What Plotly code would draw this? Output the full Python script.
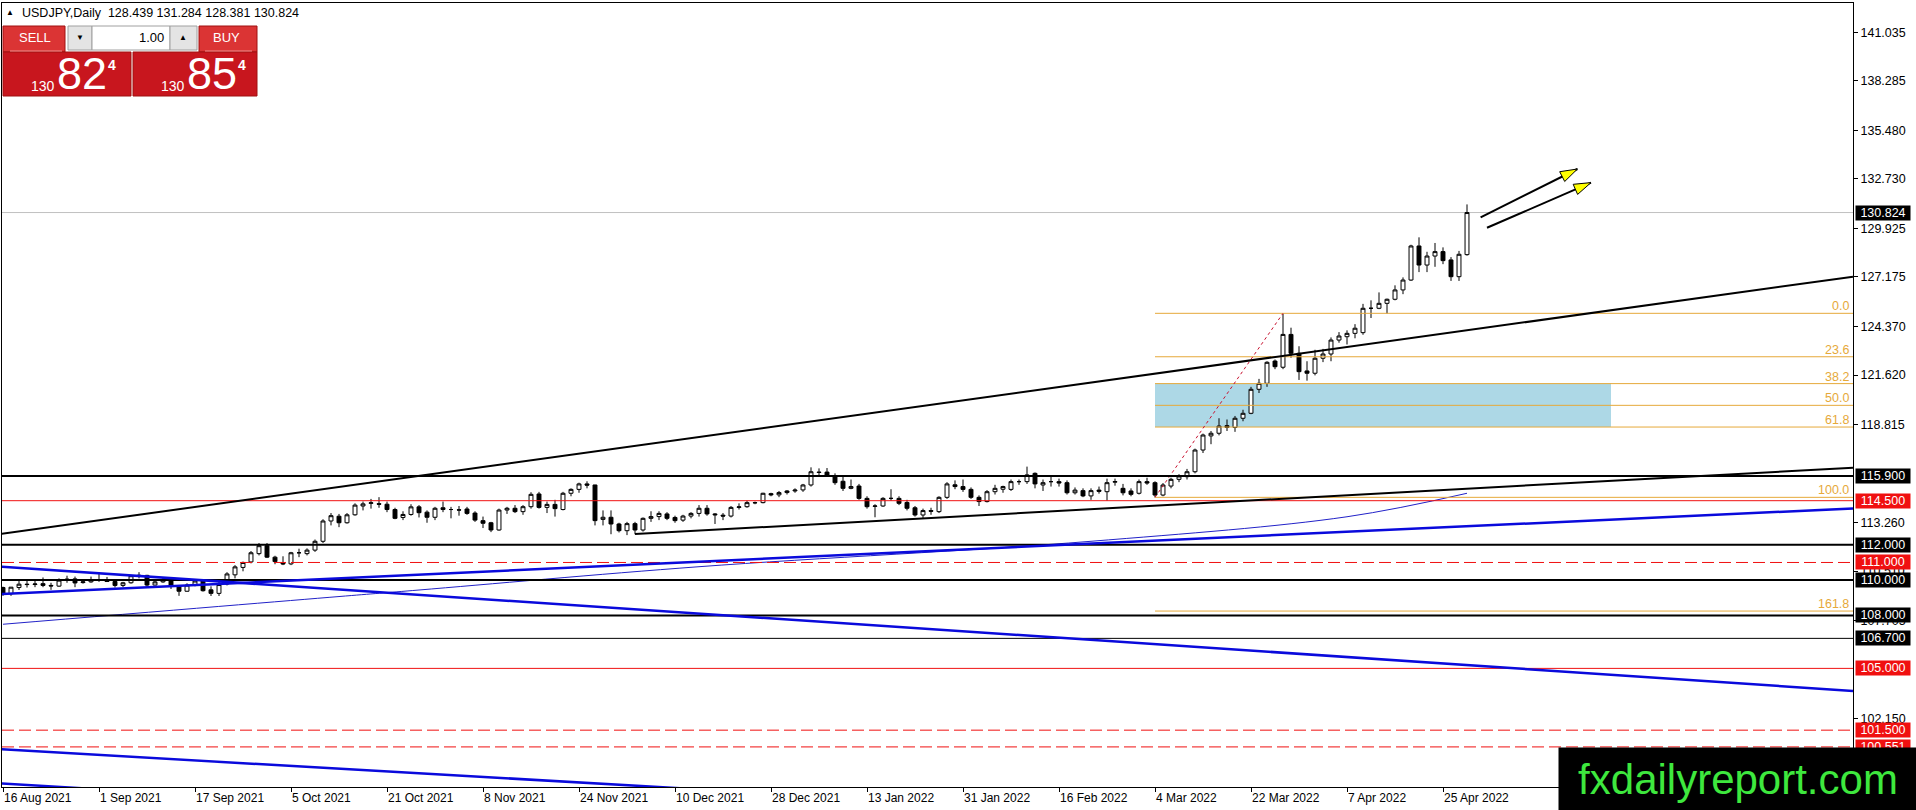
import math
import pandas as pd
import plotly.graph_objects as go

# ---- data (USDJPY daily) ----
bar_dates = pd.bdate_range("2021-08-16", "2022-04-28")  # one bar per weekday

opens = [
    109.58, 109.23, 109.58, 109.77, 109.75, 109.80, 109.70, 109.66, 110.00, 110.07,
    109.86, 109.90, 110.02, 110.01, 109.92, 109.70, 109.85, 110.25, 110.27, 109.72,
    109.90, 110.02, 109.68, 109.37, 109.72, 109.95, 109.45, 109.25, 109.78, 110.30,
    110.72, 111.03, 111.50, 111.95, 111.30, 110.98, 110.92, 111.55, 111.50, 111.70,
    112.20, 113.35, 113.62, 113.25, 113.70, 114.20, 114.35, 114.33, 114.30, 114.00,
    113.55, 113.72, 114.15, 113.85, 113.56, 114.10, 114.00, 113.98, 114.03, 113.80,
    113.37, 113.25, 112.84, 113.97, 114.07, 113.88, 114.16, 114.88, 114.12, 114.29,
    114.00, 114.92, 115.14, 115.45, 115.39, 113.44, 113.56, 113.18, 112.80, 113.20,
    112.84, 113.50, 113.60, 113.75, 113.55, 113.40, 113.63, 113.78, 114.07, 113.75,
    113.68, 113.63, 114.12, 114.16, 114.39, 114.39, 114.90, 114.83, 114.96, 115.05,
    115.11, 115.39, 116.12, 116.12, 115.90, 115.60, 115.20, 115.33, 114.63, 114.18,
    114.20, 114.63, 114.63, 114.40, 114.10, 113.69, 113.94, 113.88, 114.69, 115.40,
    115.30, 115.14, 114.69, 114.45, 115.01, 115.15, 115.14, 115.58, 115.58, 116.05,
    115.39, 115.58, 115.58, 115.52, 114.95, 115.07, 114.77, 115.10, 115.01, 115.55,
    115.20, 115.05, 114.92, 115.58, 115.52, 114.82, 115.33, 115.71, 115.86, 116.14,
    117.37, 118.17, 118.32, 118.75, 118.65, 119.17, 119.45, 120.81, 121.15, 122.41,
    122.06, 123.92, 122.85, 121.85, 121.72, 122.57, 122.81, 123.60, 123.79, 123.98,
    124.02, 125.40, 125.40, 125.68, 125.91, 126.44, 127.00, 128.93, 127.85, 128.36,
    128.61, 128.14, 127.19, 128.439,
]
highs = [
    109.63, 109.61, 110.02, 110.05, 109.97, 110.15, 109.85, 110.10, 110.25, 110.20,
    110.05, 110.20, 110.42, 110.18, 110.05, 109.90, 110.30, 110.45, 110.30, 110.05,
    110.15, 110.15, 109.72, 109.82, 110.05, 110.00, 109.65, 109.90, 110.45, 110.85,
    111.05, 111.65, 112.10, 112.10, 111.38, 111.35, 111.60, 111.78, 111.80, 112.30,
    113.45, 113.80, 113.75, 113.80, 114.35, 114.45, 114.60, 114.70, 114.45, 114.10,
    113.90, 114.30, 114.25, 113.95, 114.15, 114.45, 114.15, 114.20, 114.15, 113.90,
    113.60, 113.30, 114.05, 114.15, 114.25, 114.25, 114.98, 115.00, 114.45, 114.55,
    115.00, 115.20, 115.52, 115.60, 115.40, 113.95, 113.95, 113.25, 113.30, 113.30,
    113.55, 113.90, 113.90, 113.85, 113.65, 113.70, 113.85, 114.25, 114.25, 113.80,
    113.80, 114.20, 114.35, 114.50, 114.45, 114.95, 114.95, 115.05, 115.10, 115.20,
    115.45, 116.39, 116.33, 116.35, 116.05, 115.85, 115.70, 115.45, 114.75, 114.30,
    114.70, 115.15, 114.75, 114.55, 114.20, 114.05, 114.10, 114.75, 115.55, 115.65,
    115.70, 115.25, 114.80, 115.10, 115.40, 115.35, 115.70, 115.70, 116.43, 116.10,
    115.70, 115.90, 115.75, 115.65, 115.25, 115.20, 115.20, 115.30, 115.75, 115.75,
    115.45, 115.20, 115.70, 115.80, 115.60, 115.50, 115.80, 116.00, 116.30, 117.45,
    118.30, 118.45, 119.17, 119.10, 119.30, 119.65, 120.95, 121.40, 122.40, 122.50,
    125.08, 124.30, 123.25, 122.40, 123.05, 123.10, 123.75, 124.05, 124.15, 124.50,
    125.65, 125.85, 126.30, 125.95, 126.70, 127.15, 129.00, 129.42, 128.60, 129.10,
    128.85, 128.30, 128.65, 131.284,
]
lows = [
    109.11, 109.11, 109.44, 109.58, 109.60, 109.60, 109.45, 109.62, 109.85, 109.60,
    109.80, 109.85, 109.90, 109.90, 109.58, 109.60, 109.80, 110.10, 109.60, 109.70,
    109.85, 109.50, 109.11, 109.35, 109.65, 109.35, 109.10, 109.10, 109.70, 110.10,
    110.50, 110.95, 111.40, 111.25, 110.90, 110.85, 110.85, 111.30, 111.40, 111.60,
    112.10, 113.10, 113.00, 113.20, 113.65, 113.95, 114.05, 114.10, 113.85, 113.45,
    113.40, 113.65, 113.55, 113.25, 113.40, 113.85, 113.50, 113.65, 113.70, 113.30,
    112.95, 112.72, 112.80, 113.75, 113.80, 113.70, 114.05, 114.05, 113.80, 113.60,
    113.95, 114.75, 114.95, 115.20, 113.10, 113.10, 112.60, 112.70, 112.55, 112.60,
    112.75, 113.30, 113.40, 113.40, 113.25, 113.30, 113.50, 113.60, 113.65, 113.18,
    113.40, 113.55, 114.00, 114.10, 114.30, 114.35, 114.75, 114.70, 114.85, 114.95,
    115.00, 115.30, 115.95, 115.85, 115.40, 115.05, 115.15, 114.55, 114.05, 113.56,
    114.15, 114.50, 114.25, 113.95, 113.60, 113.48, 113.70, 113.80, 114.60, 115.15,
    115.00, 114.60, 114.20, 114.40, 114.85, 114.95, 115.05, 115.40, 115.45, 115.20,
    115.05, 115.30, 115.30, 114.85, 114.85, 114.70, 114.55, 114.90, 114.50, 115.35,
    114.80, 114.75, 114.85, 115.40, 114.69, 114.75, 115.20, 115.55, 115.70, 116.05,
    117.20, 117.70, 118.20, 118.45, 118.40, 119.00, 119.40, 120.60, 120.95, 121.95,
    121.95, 122.60, 121.34, 121.30, 121.60, 122.35, 122.40, 123.45, 123.35, 123.70,
    123.90, 124.85, 125.35, 125.10, 125.85, 126.20, 126.95, 127.45, 127.45, 127.75,
    127.90, 126.95, 126.95, 128.381,
]
closes = [
    109.25, 109.60, 109.77, 109.75, 109.78, 109.70, 109.67, 110.00, 110.05, 109.84,
    109.90, 110.02, 110.01, 109.92, 109.70, 109.85, 110.25, 110.27, 109.72, 109.90,
    110.02, 109.70, 109.37, 109.72, 109.95, 109.40, 109.25, 109.75, 110.35, 110.75,
    111.00, 111.55, 111.95, 111.30, 111.05, 110.92, 111.55, 111.55, 111.70, 112.20,
    113.35, 113.65, 113.25, 113.70, 114.25, 114.32, 114.38, 114.30, 114.00, 113.50,
    113.72, 114.15, 113.82, 113.56, 114.07, 114.00, 114.00, 113.97, 113.78, 113.40,
    113.22, 112.84, 113.97, 114.07, 113.88, 114.16, 114.86, 114.12, 114.29, 114.05,
    114.92, 115.14, 115.45, 115.38, 113.37, 113.56, 113.18, 112.80, 113.20, 112.84,
    113.50, 113.60, 113.78, 113.50, 113.37, 113.63, 113.78, 114.07, 113.75, 113.70,
    113.63, 114.12, 114.15, 114.39, 114.38, 114.92, 114.83, 114.96, 115.05, 115.10,
    115.39, 116.14, 116.10, 115.90, 115.52, 115.20, 115.30, 114.63, 114.16, 114.20,
    114.63, 114.63, 114.35, 114.07, 113.69, 113.94, 113.90, 114.69, 115.45, 115.30,
    115.14, 114.69, 114.45, 115.01, 115.20, 115.30, 115.58, 115.58, 115.96, 115.45,
    115.52, 115.58, 115.50, 114.95, 115.10, 114.77, 115.07, 115.03, 115.52, 115.58,
    114.95, 114.86, 115.58, 115.50, 114.82, 115.39, 115.71, 115.90, 116.14, 117.37,
    118.22, 118.32, 118.73, 118.65, 119.17, 119.45, 120.81, 121.15, 122.34, 122.09,
    123.92, 122.85, 121.81, 121.72, 122.57, 122.81, 123.60, 123.83, 123.98, 124.27,
    125.40, 125.40, 125.68, 125.91, 126.44, 127.00, 128.93, 127.85, 128.36, 128.61,
    128.10, 127.19, 128.46, 130.824,
]

tick_labels = ["16 Aug 2021", "1 Sep 2021", "17 Sep 2021", "5 Oct 2021", "21 Oct 2021",
               "8 Nov 2021", "24 Nov 2021", "10 Dec 2021", "28 Dec 2021", "13 Jan 2022",
               "31 Jan 2022", "16 Feb 2022", "4 Mar 2022", "22 Mar 2022", "7 Apr 2022",
               "25 Apr 2022"]
# price scale labels; the ones hidden completely behind level boxes are left out
price_ticks = [141.035, 138.285, 135.480, 132.730, 129.925, 127.175, 124.370, 121.620,
               118.815, 113.260, 110.510, 107.705, 102.150]

# horizontal support / resistance levels
level_prices = [115.900, 114.500, 112.000, 111.000, 110.000, 108.000, 106.700,
                105.000, 101.500, 100.551]
last_price = 130.824

# fibonacci retracement drawn from the 4 Mar low to the 28 Mar high
fib_low, fib_high = 114.69, 125.115
fib_ratios = [0.0, 23.6, 38.2, 50.0, 61.8, 100.0, 161.8]
fib_start_bar, fib_end_bar, zone_end_bar = 144, 160, 201

# thin moving average (read at a few bars)
ma_bars = [0, 42, 52, 87, 136, 168, 183]
ma_values = [107.50, 109.07, 109.44, 110.76, 112.20, 113.59, 114.92]

# drawn trend lines: (bar, price) -> (bar, price)
black_trends = [((-0.375, 112.61), (231.25, 127.19)),
                ((79, 112.61), (231.25, 116.37))]
blue_trends = [((-0.375, 110.76), (231.25, 103.72)),
               ((-0.375, 109.215), (231.25, 114.06)),
               ((-0.375, 100.42), (90, 98.07)),
               ((-0.375, 98.49), (12, 98.15))]
arrows = [((184.7, 130.55), (196.8, 133.29)),
          ((185.5, 129.96), (198.5, 132.52))]

# ---- layout constants ----
W, H = 1916, 810
PLOT_L, PLOT_R, PLOT_T, PLOT_B = 2, 1853, 3, 787
XMIN, XMAX = -0.125, 231.25
YMIN, YMAX = 98.28, 142.695
FONT = "Liberation Sans, Arial, sans-serif"
RED = "#F01010"
BLUE = "#0A0ADC"
FIB = "#E6A93A"


def pxx(px):
    return (px - PLOT_L) / (PLOT_R - PLOT_L)


def pxy(py):
    return (PLOT_B - py) / (PLOT_B - PLOT_T)


bars = list(range(len(bar_dates)))
date_pos = {d.strftime("%-d %b %Y"): i for i, d in enumerate(bar_dates)}
tick_bars = [date_pos[t] for t in tick_labels]

fig = go.Figure()

fig.add_trace(go.Scatter(
    x=ma_bars, y=ma_values, mode="lines",
    line=dict(color="#2222C8", width=1, shape="spline", smoothing=1),
    hoverinfo="skip", showlegend=False))

fig.add_trace(go.Candlestick(
    x=bars, open=opens, high=highs, low=lows, close=closes,
    increasing=dict(line=dict(color="black", width=1), fillcolor="white"),
    decreasing=dict(line=dict(color="black", width=1), fillcolor="black"),
    whiskerwidth=0, showlegend=False, hoverinfo="skip"))

shapes = []
annotations = []

# fibonacci zone (background)
fib_levels = [fib_high - r / 100 * (fib_high - fib_low) for r in fib_ratios]
shapes.append(dict(type="rect", xref="x", yref="y", x0=fib_start_bar, x1=zone_end_bar,
                   y0=fib_levels[2], y1=fib_levels[4], fillcolor="#ADD8E6",
                   line=dict(width=0), layer="below"))
for r, lv in zip(fib_ratios, fib_levels):
    shapes.append(dict(type="line", xref="x", yref="y", x0=fib_start_bar, x1=XMAX,
                       y0=lv, y1=lv, line=dict(color=FIB, width=1), layer="above"))
    annotations.append(dict(xref="paper", yref="y", x=1, y=lv, xanchor="right",
                            yanchor="bottom", xshift=-2, yshift=-2, showarrow=False,
                            text=f"{r:.1f}", font=dict(family=FONT, size=12.5, color=FIB)))
shapes.append(dict(type="line", xref="x", yref="y", x0=fib_start_bar, y0=fib_low,
                   x1=fib_end_bar, y1=fib_high,
                   line=dict(color="#C8102E", width=1, dash="3px,3px"), layer="above"))

# last price line
shapes.append(dict(type="line", xref="paper", yref="y", x0=0, x1=1, y0=last_price,
                   y1=last_price, line=dict(color="#C0C0C0", width=1), layer="below"))

# horizontal levels
level_styles = {"heavy": ("black", 2, "solid"), "thin": ("black", 1, "solid"),
                "red": (RED, 1, "solid"), "red_dash": (RED, 1, "12px,5px")}
level_kinds = ["heavy", "red", "heavy", "red_dash", "heavy", "heavy", "thin",
               "red", "red_dash", "red_dash"]
for lv, kind in zip(level_prices, level_kinds):
    color, width, dash = level_styles[kind]
    shapes.append(dict(type="line", xref="paper", yref="y", x0=0, x1=1, y0=lv, y1=lv,
                       line=dict(color=color, width=width, dash=dash), layer="above"))

# trend lines
for (x0, y0), (x1, y1) in black_trends:
    shapes.append(dict(type="line", xref="x", yref="y", x0=x0, y0=y0, x1=x1, y1=y1,
                       line=dict(color="black", width=2), layer="above"))
for (x0, y0), (x1, y1) in blue_trends:
    shapes.append(dict(type="line", xref="x", yref="y", x0=x0, y0=y0, x1=x1, y1=y1,
                       line=dict(color=BLUE, width=2.5), layer="above"))

# arrows: black shaft + yellow head
px_per_bar = (PLOT_R - PLOT_L) / (XMAX - XMIN)
px_per_yen = (PLOT_B - PLOT_T) / (YMAX - YMIN)
HEAD_LEN, HEAD_HALF = 17, 5.5
for (sx, sy), (tx, ty) in arrows:
    shapes.append(dict(type="line", xref="x", yref="y", x0=sx, y0=sy, x1=tx, y1=ty,
                       line=dict(color="black", width=2), layer="above"))
    dx, dy = (tx - sx) * px_per_bar, (ty - sy) * px_per_yen
    n = math.hypot(dx, dy)
    ux, uy = dx / n, dy / n
    bx, by = -HEAD_LEN * ux, -HEAD_LEN * uy
    p1 = (bx - HEAD_HALF * uy, by + HEAD_HALF * ux)
    p2 = (bx + HEAD_HALF * uy, by - HEAD_HALF * ux)
    shapes.append(dict(type="path", xref="x", yref="y", xsizemode="pixel",
                       ysizemode="pixel", xanchor=tx, yanchor=ty,
                       path=f"M 0,0 L {p1[0]:.1f},{p1[1]:.1f} L {p2[0]:.1f},{p2[1]:.1f} Z",
                       fillcolor="#FFFF00", line=dict(color="black", width=1),
                       layer="above"))

# price boxes on the right axis
for lv, kind in zip(level_prices, level_kinds):
    annotations.append(dict(xref="paper", yref="y", x=1, y=lv, xanchor="left",
                            yanchor="middle", xshift=2, showarrow=False,
                            text=f"{lv:.3f}", width=52, height=12, borderpad=1,
                            bgcolor="black" if kind in ("heavy", "thin") else RED,
                            font=dict(family=FONT, size=12.5, color="white")))
annotations.append(dict(xref="paper", yref="y", x=1, y=last_price, xanchor="left",
                        yanchor="middle", xshift=2, showarrow=False,
                        text=f"{last_price:.3f}", width=52, height=12, borderpad=1,
                        bgcolor="black", font=dict(family=FONT, size=12.5, color="white")))

# date labels (MT4 draws them starting at the tick)
for b, t in zip(tick_bars, tick_labels):
    annotations.append(dict(xref="x", yref="paper", x=b, y=0, xanchor="left",
                            yanchor="top", xshift=-1, yshift=-2, showarrow=False,
                            text=t, font=dict(family=FONT, size=12, color="black")))

# header line
annotations.append(dict(xref="paper", yref="paper", x=pxx(4), y=pxy(13), xanchor="left",
                        yanchor="middle", showarrow=False, text="▲",
                        font=dict(family=FONT, size=8, color="black")))
annotations.append(dict(xref="paper", yref="paper", x=pxx(20), y=pxy(13),
                        xanchor="left", yanchor="middle", showarrow=False,
                        text=f"USDJPY,Daily\u00a0 {opens[-1]:.3f} {highs[-1]:.3f} "
                             f"{lows[-1]:.3f} {closes[-1]:.3f}",
                        font=dict(family=FONT, size=12.5, color="black")))


# one-click trading panel
def panel_rect(x0, y0, x1, y1, fill, line="#A01010"):
    shapes.append(dict(type="rect", xref="paper", yref="paper", x0=pxx(x0), x1=pxx(x1),
                       y0=pxy(y1), y1=pxy(y0), fillcolor=fill,
                       line=dict(color=line, width=1), layer="above"))


def panel_text(x, y, text, size, color="white", anchor="left", bold=False):
    annotations.append(dict(xref="paper", yref="paper", x=pxx(x), y=pxy(y),
                            xanchor=anchor, yanchor="middle", showarrow=False,
                            text=f"<b>{text}</b>" if bold else text,
                            font=dict(family=FONT, size=size, color=color)))


panel_rect(3, 26, 65, 52, "#DB3434")
panel_rect(199, 26, 257, 52, "#DB3434")
panel_rect(3, 52, 131, 96, "#C8161E")
panel_rect(133, 52, 257, 96, "#C8161E")
panel_rect(68, 26, 92, 50, "#E4E4E4", line="#A0A0A0")
panel_rect(92, 26, 170, 50, "white", line="#A0A0A0")
panel_rect(170, 26, 197, 50, "#E4E4E4", line="#A0A0A0")
shapes.append(dict(type="line", xref="paper", yref="paper", x0=pxx(10), x1=pxx(62),
                   y0=pxy(51), y1=pxy(51), line=dict(color="#F09090", width=1),
                   layer="above"))
shapes.append(dict(type="line", xref="paper", yref="paper", x0=pxx(205), x1=pxx(252),
                   y0=pxy(51), y1=pxy(51), line=dict(color="#F09090", width=1),
                   layer="above"))
panel_text(34.5, 38, "SELL", 13, anchor="center")
panel_text(226, 38, "BUY", 13, anchor="center")
panel_text(166, 37, "1.00", 13, color="black", anchor="right")
panel_text(80, 37, "▼", 8, color="black", anchor="center")
panel_text(183, 37, "▲", 8, color="black", anchor="center")
panel_text(29, 85.5, "130", 14)
panel_text(55, 73, "82", 45)
panel_text(106, 65, "4", 14, bold=True)
panel_text(159, 85.5, "130", 14)
panel_text(185, 73, "85", 45)
panel_text(236, 65, "4", 14, bold=True)

# watermark box
annotations.append(dict(xref="paper", yref="paper", x=pxx(1558), y=pxy(747),
                        xanchor="left", yanchor="top", showarrow=False,
                        text="fxdailyreport.com", width=358, height=63, borderpad=0,
                        bgcolor="black",
                        font=dict(family=FONT, size=42, color="#3EE83E")))

fig.update_layout(
    width=W, height=H,
    margin=dict(l=PLOT_L, r=W - PLOT_R, t=PLOT_T, b=H - PLOT_B, pad=0),
    paper_bgcolor="white", plot_bgcolor="white",
    showlegend=False,
    shapes=shapes, annotations=annotations,
    font=dict(family=FONT, color="black"),
    xaxis=dict(range=[XMIN, XMAX], rangeslider=dict(visible=False),
               tickvals=tick_bars, showticklabels=False, ticks="outside",
               ticklen=4, tickcolor="black", showline=True, linecolor="black",
               linewidth=1, mirror=True, showgrid=False, zeroline=False),
    yaxis=dict(side="right", range=[YMIN, YMAX], tickvals=price_ticks,
               ticktext=[f"{v:.3f}" for v in price_ticks], ticks="outside",
               ticklen=4, tickcolor="black", showline=True, linecolor="black",
               linewidth=1, mirror=True, showgrid=False, zeroline=False,
               tickfont=dict(family=FONT, size=12.5, color="black")),
)

fig.write_html("out.html", config={"displayModeBar": False},
               post_script="document.body.style.margin='0';")
